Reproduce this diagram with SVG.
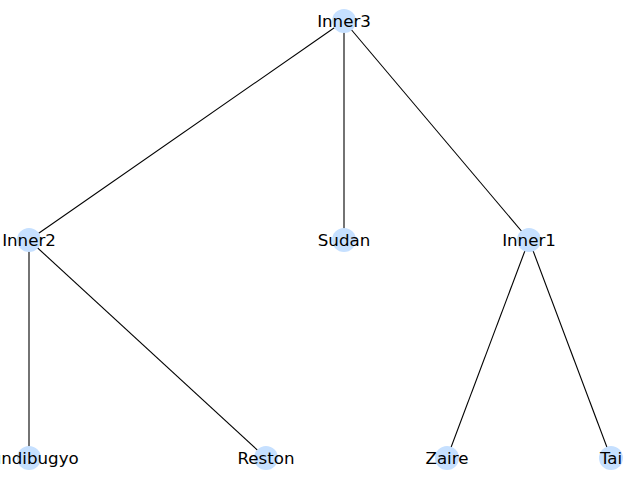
<svg xmlns="http://www.w3.org/2000/svg" width="640" height="480" viewBox="0 0 640 480">
  <style>
    .edge { stroke: #000; stroke-width: 1.1; fill: none; }
    .node circle { fill: #c6e0ff; }
    .node text { font-family: "DejaVu Sans", sans-serif; font-size: 16.67px; fill: #000; text-anchor: middle; dominant-baseline: central; }
  </style>
  <rect width="640" height="480" fill="#fff"/>
  <g id="edges">
    <line class="edge" x1="344" y1="21" x2="29" y2="240"/>
    <line class="edge" x1="344" y1="21" x2="344" y2="240"/>
    <line class="edge" x1="344" y1="21" x2="529" y2="240"/>
    <line class="edge" x1="29" y1="240" x2="29" y2="458"/>
    <line class="edge" x1="29" y1="240" x2="266" y2="458"/>
    <line class="edge" x1="529" y1="240" x2="447" y2="458"/>
    <line class="edge" x1="529" y1="240" x2="611" y2="458"/>
  </g>
  <g id="Inner3" class="node"><circle cx="344" cy="21" r="12"/><text x="344" y="21">Inner3</text></g>
  <g id="Inner2" class="node"><circle cx="29" cy="240" r="12"/><text x="29" y="240">Inner2</text></g>
  <g id="Sudan" class="node"><circle cx="344" cy="240" r="12"/><text x="344" y="240">Sudan</text></g>
  <g id="Inner1" class="node"><circle cx="529" cy="240" r="12"/><text x="529" y="240">Inner1</text></g>
  <g id="Bundibugyo" class="node"><circle cx="29" cy="458" r="12"/><text x="29" y="458">Bundibugyo</text></g>
  <g id="Reston" class="node"><circle cx="266" cy="458" r="12"/><text x="266" y="458">Reston</text></g>
  <g id="Zaire" class="node"><circle cx="447" cy="458" r="12"/><text x="447" y="458">Zaire</text></g>
  <g id="Tai" class="node"><circle cx="611" cy="458" r="12"/><text x="611" y="458">Tai</text></g>
</svg>
